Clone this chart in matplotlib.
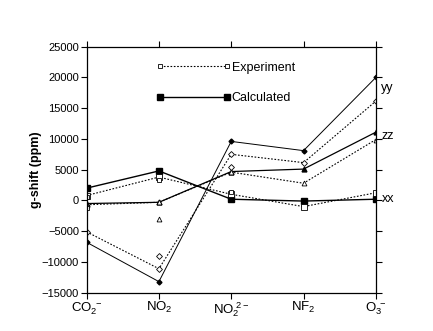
import matplotlib
matplotlib.use('Agg')
import matplotlib.pyplot as plt
import numpy as np

plt.rcParams['font.family'] = ['Liberation Sans', 'DejaVu Sans']
plt.rcParams['mathtext.fontset'] = 'custom'
plt.rcParams['mathtext.rm'] = 'Liberation Sans'
plt.rcParams['mathtext.it'] = 'Liberation Sans'

# categories
labels = [r'$\mathrm{CO}_2^{\ -}$', r'$\mathrm{NO}_2$', r'$\mathrm{NO}_2^{\ 2-}$',
          r'$\mathrm{NF}_2$', r'$\mathrm{O}_3^{\ -}$']
x = np.arange(len(labels))

# calculated (solid)
yy_calc = [-6800, -13200, 9600, 8100, 20000]
zz_calc = [-500, -300, 4700, 5100, 11100]
xx_calc = [2000, 4800, 200, -100, 200]

# experiment (dotted)
yy_exp = [-5100, -11100, 7500, 6150, 16150]
zz_exp = [-700, -300, 4600, 2800, 9900]
xx_exp = [800, 3800, 1000, -1000, 1250]

# extra experimental points not on the lines
extra_x = [0, 0, 1, 1, 1, 2, 2]
extra_y = [500, -1300, 3300, -3000, -9100, 1350, 5500]
extra_m = ['s', 's', 's', '^', 'D', 's', 'D']

fig = plt.figure(figsize=(4.33, 3.31), dpi=100)
ax = fig.add_axes([0.2, 0.1157, 0.668, 0.7432])

dot = (0, (1.5, 1.5))
ax.plot(x, yy_calc, '-', color='k', lw=0.7, marker='D', ms=2.5, mfc='k')
ax.plot(x, zz_calc, '-', color='k', lw=0.9, marker='^', ms=3.5, mfc='k')
ax.plot(x, xx_calc, '-', color='k', lw=1.0, marker='s', ms=4.5, mfc='k')
ax.plot(x, yy_exp, ls=dot, color='k', lw=0.8, marker='D', ms=3, mfc='white', mew=0.6)
ax.plot(x, zz_exp, ls=dot, color='k', lw=0.8, marker='^', ms=3.5, mfc='white', mew=0.6)
ax.plot(x, xx_exp, ls=dot, color='k', lw=0.8, marker='s', ms=4, mfc='white', mew=0.6)
for xi, yi, m in zip(extra_x, extra_y, extra_m):
    ax.plot(xi, yi, ls='none', marker=m, ms=3.5 if m != 'D' else 3, mfc='white',
            mec='k', mew=0.6)

# legend handles
h1, = ax.plot([], [], ls=dot, color='k', lw=0.8, marker='s', ms=3.5, mfc='white', mew=0.6)
h2, = ax.plot([], [], '-', color='k', lw=1.0, marker='s', ms=4.5, mfc='k')
ax.legend([h1, h2], ['Experiment', 'Calculated'], numpoints=2, frameon=False,
          handlelength=5.9, handletextpad=0.1, labelspacing=1.5, fontsize=9,
          loc='upper left', bbox_to_anchor=(0.225, 0.96), borderaxespad=0)

# component labels
for txt, val in [('yy', yy_calc[-1]), ('zz', zz_calc[-1]), ('xx', xx_calc[-1])]:
    off = {'yy': -1700, 'zz': -600, 'xx': 100}[txt]
    ax.annotate(txt, (4, val + off), xytext=(4, 0), textcoords='offset points',
                fontsize=9, va='center', ha='left', annotation_clip=False)

ax.set_xlim(0, 4)
ax.set_ylim(-15000, 25000)
ax.set_yticks(np.arange(-15000, 25001, 5000))
ax.set_xticks(x)
ax.set_xticklabels(labels, fontsize=9.5)
ax.tick_params(axis='y', left=True, right=True, direction='out', length=4.5,
               width=0.8, labelsize=8, pad=1)
ax.tick_params(axis='x', top=True, bottom=True, direction='out', length=4.5,
               width=0.8, pad=1)
for s in ax.spines.values():
    s.set_linewidth(0.9)
ax.set_ylabel('g-shift (ppm)', fontsize=9, fontweight='bold', labelpad=0)

fig.savefig('out.png', dpi=100)
